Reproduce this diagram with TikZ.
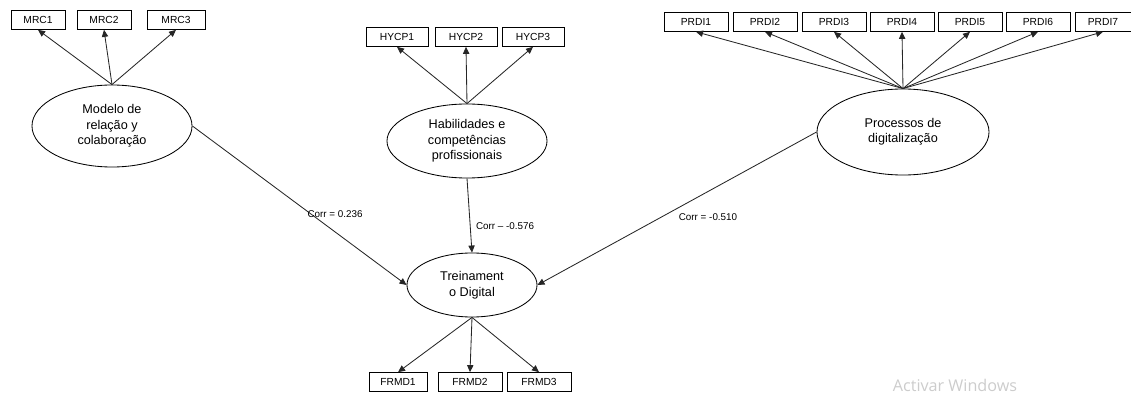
\documentclass[tikz,border=0pt]{standalone}
\usepackage{fontspec}
\setmainfont{Liberation Sans}
\newfontfamily\winfont{Open Sans}
\usetikzlibrary{shapes.geometric,arrows.meta}

\begin{document}
\begin{tikzpicture}[x=0.025cm,y=-0.025cm,
    ind/.style={draw,line width=0.6pt,minimum width=1.55cm,minimum height=0.47cm,inner sep=0pt,font=\fontsize{7.3}{8}\selectfont},
    lat/.style={draw,line width=0.6pt,ellipse,inner sep=0pt,align=center,font=\fontsize{9}{11}\selectfont},
    seta/.style={line width=0.6pt,draw=black!85,-{Triangle[length=5pt,width=4.5pt]}},
    corr/.style={inner sep=1pt,font=\fontsize{7}{8}\selectfont}]

    % Margens da figura
    \useasboundingbox (0,0) rectangle (1131,393);

    % Variaveis latentes
    \node[lat,minimum width=4cm,minimum height=2.05cm] (MRC) at (112,126) {Modelo de\\relação y\\colaboração};
    \node[lat,minimum width=4cm,minimum height=1.85cm] (HYCP) at (467,141) {Habilidades e\\competências\\profissionais};
    \node[lat,minimum width=4.3cm,minimum height=2.15cm] (PRDI) at (903,132) {Processos de\\digitalização};
    \node[lat,minimum width=3.25cm,minimum height=1.6cm] (TD) at (472,285) {Treinament\\o Digital};

    % Indicadores MRC
    \node[ind,minimum width=1.35cm] (mrc1) at (38,20) {MRC1};
    \node[ind,minimum width=1.35cm] (mrc2) at (104,20) {MRC2};
    \node[ind,minimum width=1.45cm] (mrc3) at (176,20) {MRC3};

    % Indicadores HYCP
    \node[ind] (hycp1) at (397,37) {HYCP1};
    \node[ind] (hycp2) at (466,37) {HYCP2};
    \node[ind] (hycp3) at (533,37) {HYCP3};

    % Indicadores PRDI
    \node[ind,minimum width=1.6cm] (prdi1) at (696,22) {PRDI1};
    \node[ind,minimum width=1.6cm] (prdi2) at (765,22) {PRDI2};
    \node[ind,minimum width=1.6cm] (prdi3) at (834,22) {PRDI3};
    \node[ind,minimum width=1.6cm] (prdi4) at (902,22) {PRDI4};
    \node[ind,minimum width=1.6cm] (prdi5) at (970,22) {PRDI5};
    \node[ind,minimum width=1.6cm] (prdi6) at (1038,22) {PRDI6};
    \node[ind,minimum width=1.4cm] (prdi7) at (1103,22) {PRDI7};

    % Indicadores FRMD
    \node[ind,minimum width=1.45cm] (frmd1) at (398,382) {FRMD1};
    \node[ind,minimum width=1.6cm] (frmd2) at (470,382) {FRMD2};
    \node[ind,minimum width=1.6cm] (frmd3) at (539,382) {FRMD3};

    % Cargas
    \draw[seta] (MRC.north) -- (mrc1.south);
    \draw[seta] (MRC.north) -- (mrc2.south);
    \draw[seta] (MRC.north) -- (mrc3.south);
    \draw[seta] (HYCP.north) -- (hycp1.south);
    \draw[seta] (HYCP.north) -- (hycp2.south);
    \draw[seta] (HYCP.north) -- (hycp3.south);
    \draw[seta] (PRDI.north) -- (prdi1.south);
    \draw[seta] (PRDI.north) -- (prdi2.south);
    \draw[seta] (PRDI.north) -- (prdi3.south);
    \draw[seta] (PRDI.north) -- (prdi4.south);
    \draw[seta] (PRDI.north) -- (prdi5.south);
    \draw[seta] (PRDI.north) -- (prdi6.south);
    \draw[seta] (PRDI.north) -- (prdi7.south);
    \draw[seta] (TD.south) -- (frmd1.north);
    \draw[seta] (TD.south) -- (frmd2.north);
    \draw[seta] (TD.south) -- (frmd3.north);

    % Relacoes estruturais
    \draw[seta] (MRC.east) -- (TD.west);
    \draw[seta] (HYCP.south) -- (TD.north);
    \draw[seta] (PRDI.west) -- (TD.east);

    % Correlacoes
    \node[corr] (c1) at (335,214) {Corr = 0.236};
    \node[corr] (c2) at (505,226) {Corr – -0.576};
    \node[corr] (c3) at (708,217) {Corr = -0.510};

    % Marca d'agua
    \node[text=gray!40,inner sep=0pt,font=\winfont\fontsize{11.5}{12}\selectfont] (win) at (955,385) {Activar Windows};

\end{tikzpicture}
\end{document}
